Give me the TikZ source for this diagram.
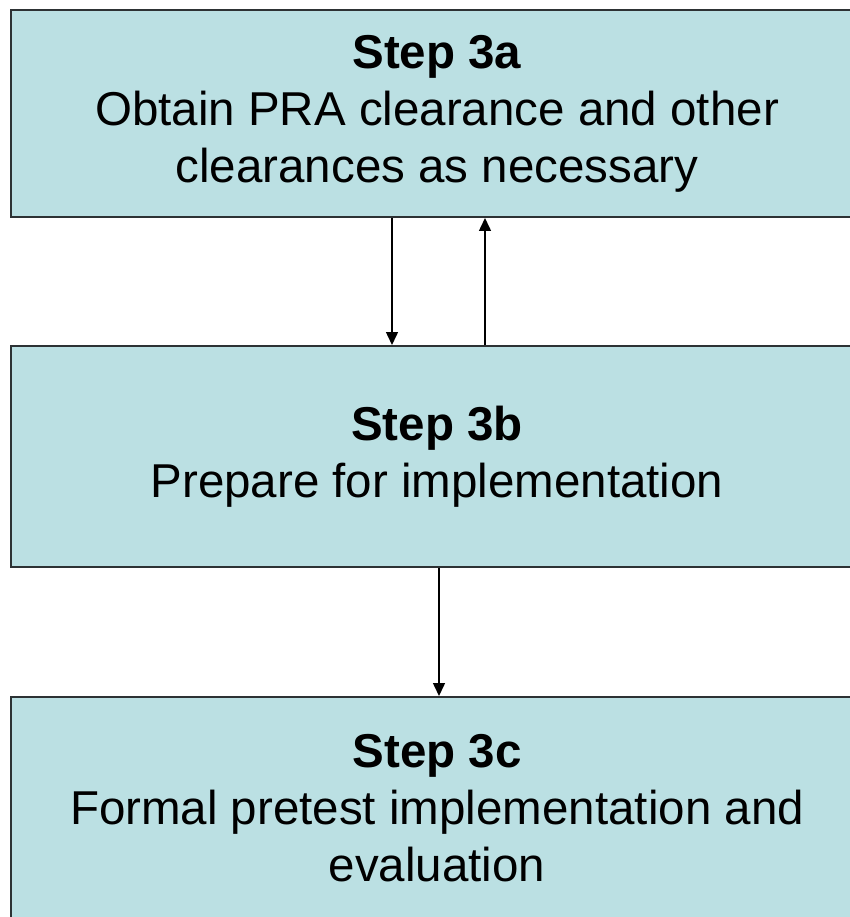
\documentclass[tikz,border=0pt]{standalone}
\usepackage{fontspec}
\setmainfont{Liberation Sans}
\usetikzlibrary{arrows.meta}
\definecolor{boxfill}{RGB}{187,224,227}
\definecolor{boxline}{RGB}{45,50,52}
\begin{document}
\begin{tikzpicture}[x=1pt,y=1pt,
  stepbox/.style={draw=boxline, line width=2pt, fill=boxfill, rectangle,
    minimum width=852pt, align=center, inner sep=0pt,
    font=\fontsize{47.5}{57}\selectfont},
  conn/.style={line width=1.5pt, black, -{Triangle[width=12pt,length=13pt]}}]
\useasboundingbox (0,0) rectangle (850,-917);
\clip (0,0) rectangle (850,-917);
\fill[white] (0,0) rectangle (850,-917);
\node[stepbox, minimum height=207pt] (a) at (437,-113.5)
  {\textbf{Step 3a}\\Obtain PRA clearance and other\\clearances as necessary};
\node[stepbox, minimum height=221pt] (b) at (437,-456.5)
  {\textbf{Step 3b}\\Prepare for implementation};
\node[stepbox, minimum height=222pt] (c) at (437,-808)
  {\textbf{Step 3c}\\Formal pretest implementation and\\evaluation};
\draw[conn] ([xshift=-45pt]a.south) -- ([xshift=-45pt]b.north);
\draw[conn] ([xshift=48pt]b.north) -- ([xshift=48pt]a.south);
\draw[conn] ([xshift=2pt]b.south) -- ([xshift=2pt]c.north);
\end{tikzpicture}
\end{document}
